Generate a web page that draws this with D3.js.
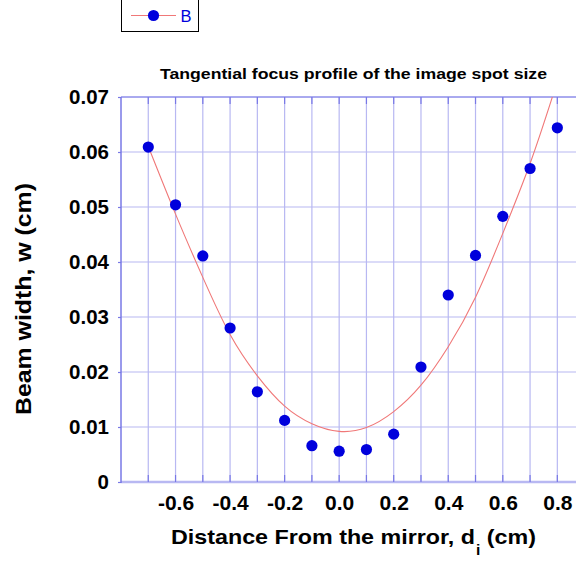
<!DOCTYPE html>
<html>
<head>
<meta charset="utf-8">
<script src="https://cdn.jsdelivr.net/npm/d3@7"></script>
<style>
  html, body { margin: 0; padding: 0; background: #fff; }
  svg { display: block; font-family: Arial, "Liberation Sans", sans-serif; }
</style>
</head>
<body>
<svg id="chart" width="576" height="563"></svg>
<script>
// Measured spot size (series B)
const distances = [-0.7, -0.6, -0.5, -0.4, -0.3, -0.2, -0.1, 0.0, 0.1, 0.2, 0.3, 0.4, 0.5, 0.6, 0.7, 0.8];
const beamWidths = [0.0609, 0.0504, 0.0411, 0.0280, 0.0164, 0.0112, 0.0066, 0.0056, 0.0059, 0.0087, 0.0209, 0.0340, 0.0412, 0.0483, 0.0570, 0.0644];

// Fitted focus curve, sampled along the distance axis
const fitDistances = [-0.70, -0.60, -0.50, -0.40, -0.30, -0.20, -0.10, 0.00, 0.10, 0.20, 0.30, 0.40, 0.50, 0.60, 0.70, 0.785];
const fitWidths = [0.0610, 0.0487, 0.0372, 0.0268, 0.0193, 0.0138, 0.0106, 0.0092, 0.0099, 0.0128, 0.0176, 0.0246, 0.0336, 0.0452, 0.0579, 0.0705];

const xGridValues = [-0.7, -0.6, -0.5, -0.4, -0.3, -0.2, -0.1, 0.0, 0.1, 0.2, 0.3, 0.4, 0.5, 0.6, 0.7, 0.8];
const xTickLabels = [-0.6, -0.4, -0.2, 0.0, 0.2, 0.4, 0.6, 0.8];
const yTicks = [0, 0.01, 0.02, 0.03, 0.04, 0.05, 0.06, 0.07];

const svg = d3.select("#chart");

const x = d3.scaleLinear().domain([-0.8, 0.9]).range([121, 584.6]);
const y = d3.scaleLinear().domain([0, 0.07]).range([482, 97]);

const gridColor = "#b8b8f2";
const axisColor = "#7878e6";

// clip for the plotting area
svg.append("defs").append("clipPath").attr("id", "plotClip")
  .append("rect")
  .attr("x", x(-0.8)).attr("y", y(0.07))
  .attr("width", x(0.9) - x(-0.8)).attr("height", y(0) - y(0.07));

// grid
const grid = svg.append("g");
grid.selectAll("line.v").data(xGridValues).join("line")
  .attr("x1", d => x(d)).attr("x2", d => x(d))
  .attr("y1", y(0)).attr("y2", y(0.07))
  .attr("stroke", gridColor).attr("stroke-width", 1.2);
grid.selectAll("line.h").data(yTicks.slice(1)).join("line")
  .attr("x1", x(-0.8)).attr("x2", x(0.9))
  .attr("y1", d => y(d)).attr("y2", d => y(d))
  .attr("stroke", gridColor).attr("stroke-width", 1.2);

// axes frame lines
svg.append("line")
  .attr("x1", x(-0.8)).attr("x2", x(0.9)).attr("y1", y(0)).attr("y2", y(0))
  .attr("stroke", gridColor).attr("stroke-width", 2.5);
svg.append("line")
  .attr("x1", x(-0.8)).attr("x2", x(0.9)).attr("y1", y(0.07)).attr("y2", y(0.07))
  .attr("stroke", axisColor).attr("stroke-width", 1);
svg.append("line")
  .attr("x1", x(-0.8)).attr("x2", x(-0.8)).attr("y1", y(0) + 1).attr("y2", y(0.07))
  .attr("stroke", axisColor).attr("stroke-width", 1.5);

// bottom axis ticks (inward) and labels
const xAxis = d3.axisBottom(x)
  .tickValues(xTickLabels)
  .tickFormat(d => d3.format(".1f")(d).replace("\u2212", "-"))
  .tickSize(0)
  .tickPadding(13);
const gx = svg.append("g").attr("transform", `translate(0,${y(0)})`).call(xAxis);
gx.select(".domain").remove();
gx.selectAll("text")
  .attr("font-size", 21).attr("font-weight", "bold").attr("fill", "#000")
  .attr("font-family", "Arial, 'Liberation Sans', sans-serif");

svg.append("g").selectAll("line").data(xGridValues).join("line")
  .attr("x1", d => x(d)).attr("x2", d => x(d))
  .attr("y1", y(0)).attr("y2", y(0) - 7)
  .attr("stroke", axisColor).attr("stroke-width", 1.2);
svg.append("g").selectAll("line").data(xGridValues).join("line")
  .attr("x1", d => x(d)).attr("x2", d => x(d))
  .attr("y1", y(0.07)).attr("y2", y(0.07) + 7)
  .attr("stroke", axisColor).attr("stroke-width", 1.2);

// left axis
const yAxis = d3.axisLeft(y)
  .tickValues(yTicks)
  .tickFormat(d => d === 0 ? "0" : d3.format(".2f")(d))
  .tickSize(3)
  .tickPadding(9);
const gy = svg.append("g").attr("transform", `translate(${x(-0.8)},0)`).call(yAxis);
gy.select(".domain").remove();
gy.selectAll(".tick line").attr("stroke", axisColor).attr("stroke-width", 1.2);
gy.selectAll("text")
  .attr("font-size", 20.5).attr("font-weight", "bold").attr("fill", "#000")
  .attr("font-family", "Arial, 'Liberation Sans', sans-serif");

// fitted curve
const line = d3.line()
  .x((d, i) => x(fitDistances[i]))
  .y(d => y(d))
  .curve(d3.curveNatural);
svg.append("path")
  .datum(fitWidths)
  .attr("clip-path", "url(#plotClip)")
  .attr("d", line)
  .attr("fill", "none")
  .attr("stroke", "#f07878")
  .attr("stroke-width", 1.1);

// data points
svg.append("g").selectAll("circle").data(beamWidths).join("circle")
  .attr("cx", (d, i) => x(distances[i]))
  .attr("cy", d => y(d))
  .attr("r", 5.6)
  .attr("fill", "#0000dc");

// title
svg.append("text")
  .attr("x", 160).attr("y", 79)
  .attr("font-size", 15.5).attr("font-weight", "bold")
  .attr("textLength", 387).attr("lengthAdjust", "spacingAndGlyphs")
  .text("Tangential focus profile of the image spot size");

// axis titles
const xt = svg.append("text")
  .attr("x", 171).attr("y", 544)
  .attr("font-size", 21).attr("font-weight", "bold")
  .attr("textLength", 365).attr("lengthAdjust", "spacingAndGlyphs");
xt.append("tspan").text("Distance From the mirror, d");
xt.append("tspan").attr("font-size", 14).attr("dy", 11).attr("dx", 1).text("i");
xt.append("tspan").attr("dy", -11).text("  (cm)");

svg.append("text")
  .attr("transform", "translate(31,415) rotate(-90)")
  .attr("font-size", 21.5).attr("font-weight", "bold")
  .attr("textLength", 232).attr("lengthAdjust", "spacingAndGlyphs")
  .text("Beam width, w (cm)");

// legend
const legend = svg.append("g");
legend.append("rect")
  .attr("x", 121.5).attr("y", -5).attr("width", 77).attr("height", 36.5)
  .attr("fill", "#fff").attr("stroke", "#000").attr("stroke-width", 1);
legend.append("line")
  .attr("x1", 131).attr("x2", 176).attr("y1", 15.5).attr("y2", 15.5)
  .attr("stroke", "#f07878").attr("stroke-width", 1.1);
legend.append("circle")
  .attr("cx", 153.5).attr("cy", 15.5).attr("r", 5.6).attr("fill", "#0000dc");
legend.append("text")
  .attr("x", 180.5).attr("y", 22)
  .attr("font-size", 16.5).attr("fill", "#0000dc")
  .text("B");
</script>
</body>
</html>
